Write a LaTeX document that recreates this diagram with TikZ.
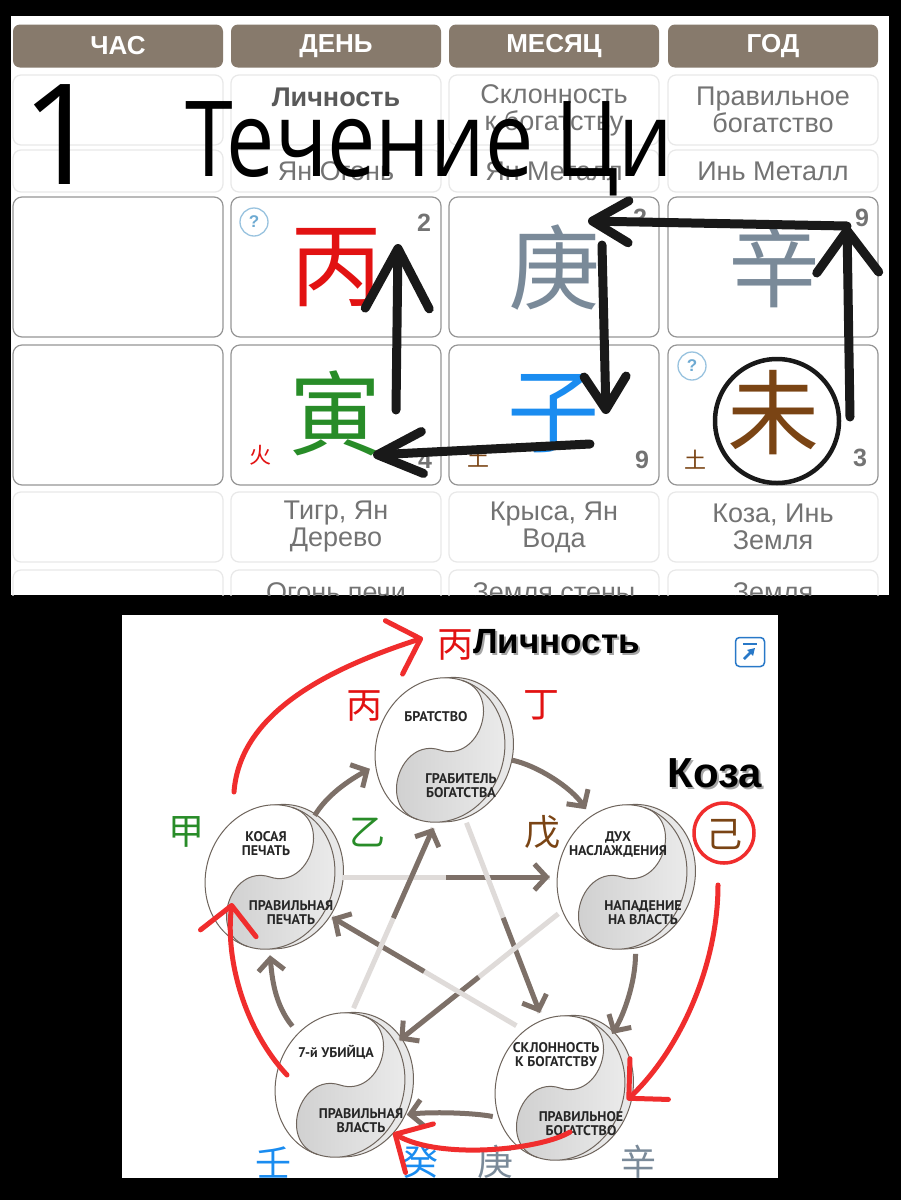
\documentclass[tikz,border=0pt]{standalone}
\usepackage{fontspec}
\setmainfont{Liberation Sans}
\newfontfamily\discfont{PT Sans}
\newfontfamily\titlefont{Open Sans}
\newfontfamily\cjk{Noto Sans CJK SC}
\usetikzlibrary{arrows.meta, calc, shapes.geometric}
\definecolor{hdrbrown}{RGB}{135,122,108}
\definecolor{celltext}{RGB}{115,115,115}
\definecolor{cellline}{RGB}{150,150,150}
\definecolor{lightline}{RGB}{232,232,232}
\definecolor{firered}{RGB}{226,18,18}
\definecolor{woodgreen}{RGB}{40,140,40}
\definecolor{earthbrown}{RGB}{122,68,20}
\definecolor{waterblue}{RGB}{26,140,240}
\definecolor{metalgray}{RGB}{122,138,153}
\definecolor{qblue}{RGB}{110,170,210}
\definecolor{iconblue}{RGB}{40,120,200}
\definecolor{arrowgray}{RGB}{125,112,104}
\definecolor{penred}{RGB}{240,45,45}
\definecolor{discline}{RGB}{110,100,92}
\newcommand{\fs}[1]{\fontsize{#1}{#1}\selectfont}
\tikzset{
  hdr/.style={fill=hdrbrown, rounded corners=7pt, minimum width=210pt, minimum height=43pt, text=white, font=\fs{26}\bfseries},
  cellbox/.style={draw=lightline, line width=1.2pt, rounded corners=8pt, minimum width=210pt},
  pillar/.style={draw=cellline, line width=1.2pt, rounded corners=9pt, minimum width=210pt, minimum height=140pt},
  lbl/.style={text=celltext, font=\fs{27}, align=center},
  han/.style={font=\cjk\fs{92}},
  smallhan/.style={font=\cjk\fs{22}},
  num/.style={text=celltext, font=\fs{25}\bfseries},
  qmark/.style={circle, draw=qblue!70, line width=1.3pt, minimum size=28pt, text=qblue, font=\fs{17}\bfseries},
  pen/.style 2 args={draw=black!90, line width=9pt, line cap=round, -{Straight Barb[round, length=#1, width=#2]}},
  disc/.style={ellipse, minimum width=144pt, minimum height=156pt},
  disctext/.style={font=\discfont\fs{14}\bfseries, align=center, text=black!85},
  cyc/.style={draw=arrowgray, line width=5pt, -{Straight Barb[length=12pt, width=26pt]}},
  fadedline/.style={draw=arrowgray!25, line width=5pt},
  redpen/.style={draw=penred, line width=5pt, line cap=round, -{Straight Barb[round, length=28pt, width=56pt]}},
  bighan/.style={font=\cjk\fs{36}},
}
% yin-yang disc: name, x, y, upper text, lower text
\newcommand{\yinyang}[5]{%
  \begin{scope}[shift={(#2,#3)}, rotate=-18]
    \fill[black!9, draw=discline, line width=1pt] (8,-3) ellipse [x radius=64pt, y radius=73pt];
    \fill[white] (0,0) ellipse [x radius=64pt, y radius=73pt];
    \begin{scope}
      \clip (0,0) ellipse [x radius=64pt, y radius=73pt];
      \shade[left color=black!20, right color=black!5] (0,-73) .. controls (42,-73) and (42,0) .. (0,0) .. controls (-42,0) and (-42,73) .. (0,73) -- (80,73) -- (80,-73) -- cycle;
    \end{scope}
    \draw[discline, line width=1pt] (0,-73) .. controls (42,-73) and (42,0) .. (0,0) .. controls (-42,0) and (-42,73) .. (0,73);
    \draw[discline, line width=1pt] (0,0) ellipse [x radius=64pt, y radius=73pt];
  \end{scope}
  \node[disc] (#1) at (#2,#3) {};
  \node[disctext] (#1-up) at ($(#1)+(-4,-33)$) {#4};
  \node[disctext] (#1-dn) at ($(#1)+(21,36)$) {#5};
}

\begin{document}
\begin{tikzpicture}[x=1pt, y=-1pt, every node/.style={inner sep=0pt}]
  \useasboundingbox (0,0) rectangle (901,1200);
  \fill[black] (0,0) rectangle (901,1200);

  % Top panel: the chart
  \fill[white] (11,16) rectangle (889,595);
  \begin{scope}
    \clip (11,16) rectangle (889,595);
    \foreach \cx/\hd [count=\i] in {118/ЧАС, 336/ДЕНЬ, 554/МЕСЯЦ, 773/ГОД} {
      \node[hdr] (hd\i) at (\cx,46) {\hd};
      \node[cellbox, minimum height=70pt] (ten\i) at (\cx,110) {};
      \node[cellbox, minimum height=42pt] (yy\i) at (\cx,171) {};
      \node[pillar] (stem\i) at (\cx,267) {};
      \node[pillar] (branch\i) at (\cx,415) {};
      \node[cellbox, minimum height=70pt] (zod\i) at (\cx,527) {};
      \node[cellbox, minimum height=60pt] (snd\i) at (\cx,600) {};
    }
    % labels
    \node[lbl, font=\fs{27}\bfseries, text=black!65] (t-day) at (336,97) {Личность};
    \node[lbl] (t-month) at (554,110) {Склонность\\к богатству};
    \node[lbl] (t-year) at (773,110) {Правильное\\богатство};
    \node[lbl] (e-day) at (336,171) {Ян Огонь};
    \node[lbl] (e-month) at (554,171) {Ян Металл};
    \node[lbl] (e-year) at (773,171) {Инь Металл};
    \node[lbl] (z-day) at (336,527) {Тигр, Ян\\Дерево};
    \node[lbl] (z-month) at (554,527) {Крыса, Ян\\Вода};
    \node[lbl] (z-year) at (773,527) {Коза, Инь\\Земля};
    \node[lbl] (s-day) at (336,592) {Огонь печи};
    \node[lbl] (s-month) at (554,592) {Земля стены};
    \node[lbl] (s-year) at (773,592) {Земля};

    % stems and branches
    \node[han, text=firered] (bing) at (336,268) {丙};
    \node[han, text=metalgray] (geng) at (554,268) {庚};
    \node[han, text=metalgray] (xin) at (774,265) {辛};
    \node[han, text=woodgreen] (yin) at (335,413) {寅};
    \node[han, text=waterblue] (zi) at (553,413) {子};
    \node[han, text=earthbrown] (wei) at (773,413) {未};
    \node[smallhan, text=firered] (huo) at (260,455) {火};
    \node[smallhan, text=earthbrown] (tu1) at (478,458) {土};
    \node[smallhan, text=earthbrown] (tu2) at (695,460) {土};
    \node[num] (n1) at (424,223) {2};
    \node[num] (n2) at (640,218) {2};
    \node[num] (n3) at (862,218) {9};
    \node[num] (n4) at (425,460) {4};
    \node[num] (n5) at (642,460) {9};
    \node[num] (n6) at (860,458) {3};
    \node[qmark] (q1) at (254,222) {?};
    \node[qmark] (q2) at (692,366) {?};
    \node[circle, draw=black!90, line width=4.5pt, minimum size=124pt] (weiring) at (777,421) {};

    % title
    \node[anchor=base, font=\titlefont\fs{140}] (one) at (62,184) {1};
    \node[anchor=base west, font=\titlefont\fs{105}] (title) at (185,176) {\scalebox{0.82}[1]{Течение Ци}};

    % flow of qi
    \coordinate (k1) at (850,417);
    \coordinate (k2) at (847,226);
    \coordinate (k3) at (588,221);
    \coordinate (k4) at (602,245);
    \coordinate (k5) at (606,414);
    \coordinate (k6) at (590,444);
    \coordinate (k7) at (373,455);
    \coordinate (k8) at (396,410);
    \coordinate (k9) at (398,244);
    \draw[pen={42pt}{62pt}] (k1) -- (k2);
    \draw[pen={36pt}{42pt}] (k2) -- (k3);
    \draw[pen={33pt}{42pt}] (k4) -- (k5);
    \draw[pen={45pt}{42pt}] (k6) -- (k7);
    \draw[pen={60pt}{64pt}] (k8) -- (k9);
  \end{scope}

  % Bottom panel: ten gods cycle
  \fill[white] (122,615) rectangle (778,1178);
  \begin{scope}
    \clip (122,615) rectangle (778,1178);
    \yinyang{top}{440}{750}{БРАТСТВО}{ГРАБИТЕЛЬ\\БОГАТСТВА}
    \yinyang{left}{270}{877}{КОСАЯ\\ПЕЧАТЬ}{ПРАВИЛЬНАЯ\\ПЕЧАТЬ}
    \yinyang{right}{622}{877}{ДУХ\\НАСЛАЖДЕНИЯ}{НАПАДЕНИЕ\\НА ВЛАСТЬ}
    \yinyang{bl}{340}{1085}{7-й УБИЙЦА}{ПРАВИЛЬНАЯ\\ВЛАСТЬ}
    \yinyang{br}{560}{1088}{СКЛОННОСТЬ\\К БОГАТСТВУ}{ПРАВИЛЬНОЕ\\БОГАТСТВО}

    % generating cycle
    \draw[cyc] (left.54) .. controls +(12,-20) and +(-22,12) .. (top.195);
    \draw[cyc] (top.-8) .. controls +(25,5) and +(-15,-22) .. (right.118);
    \draw[cyc] (right.-80) .. controls +(0,28) and +(12,-20) .. (br.46);
    \draw[cyc] (br.203) .. controls +(-20,-4) and +(22,-3) .. (bl.-24);
    \draw[cyc] (bl.129) .. controls +(-18,-22) and +(2,22) .. (left.-90);

    % controlling star
    \foreach \a/\b in {left.0/right.180, top.-70/br.105, right.210/bl.37, br.125/left.-33, bl.80/top.-95} {
      \draw[fadedline] (\a) -- (\b);
      \draw[cyc] ($(\a)!0.5!(\b)$) -- (\b);
    }

    % stems
    \node[bighan, text=firered] (s-bing) at (364,706) {丙};
    \node[bighan, text=firered] (s-ding) at (541,705) {丁};
    \node[bighan, text=woodgreen] (s-jia) at (186,832) {甲};
    \node[bighan, text=woodgreen] (s-yi) at (367,832) {乙};
    \node[bighan, text=earthbrown] (s-wu) at (542,832) {戊};
    \node[bighan, text=earthbrown] (s-ji) at (724,834) {己};
    \node[bighan, text=waterblue] (s-ren) at (273,1162) {壬};
    \node[bighan, text=waterblue] (s-gui) at (420,1162) {癸};
    \node[bighan, text=metalgray] (s-geng) at (495,1162) {庚};
    \node[bighan, text=metalgray] (s-xin) at (638,1162) {辛};
    \node[circle, draw=penred, line width=3.5pt, minimum size=60pt] (jiring) at (724,833) {};

    % notes
    \node[bighan, text=firered] (pers) at (455,645) {丙};
    \node[anchor=west, font=\fs{35}\bfseries, text=black!35] (persshadow) at (475,644) {Личность};
    \node[anchor=west, font=\fs{35}\bfseries] (persname) at (473,642) {Личность};
    \node[font=\fs{42}\bfseries, text=black!35] (goatshadow) at (717,775) {Коза};
    \node[font=\fs{42}\bfseries] (goat) at (715,773) {Коза};
    \node[draw=iconblue, line width=1.5pt, rounded corners=4pt, minimum size=29pt] (jump) at (750,652) {};
    \draw[iconblue, line width=2.5pt, -{Triangle[length=7pt, width=8pt]}] ($(jump.center)+(-6,7)$) -- ($(jump.center)+(5,-4)$);
    \draw[iconblue, line width=2pt] ($(jump.center)+(-7,-8)$) -- ($(jump.center)+(7,-8)$);

    % red arrows
    \coordinate (r1s) at (234,792);
    \coordinate (r1e) at (423,638);
    \coordinate (r2s) at (718,885);
    \coordinate (r2e) at (627,1100);
    \coordinate (r3s) at (570,1132);
    \coordinate (r3e) at (393,1133);
    \coordinate (r4s) at (287,1075);
    \coordinate (r4e) at (232,903);
    \draw[redpen] (r1s) .. controls (240,712) and (330,668) .. (r1e);
    \draw[redpen] (r2s) .. controls (718,965) and (680,1050) .. (r2e);
    \draw[redpen] (r3s) .. controls (540,1150) and (440,1160) .. (r3e);
    \draw[redpen] (r4s) .. controls (245,1030) and (225,960) .. (r4e);
  \end{scope}
\end{tikzpicture}
\end{document}
